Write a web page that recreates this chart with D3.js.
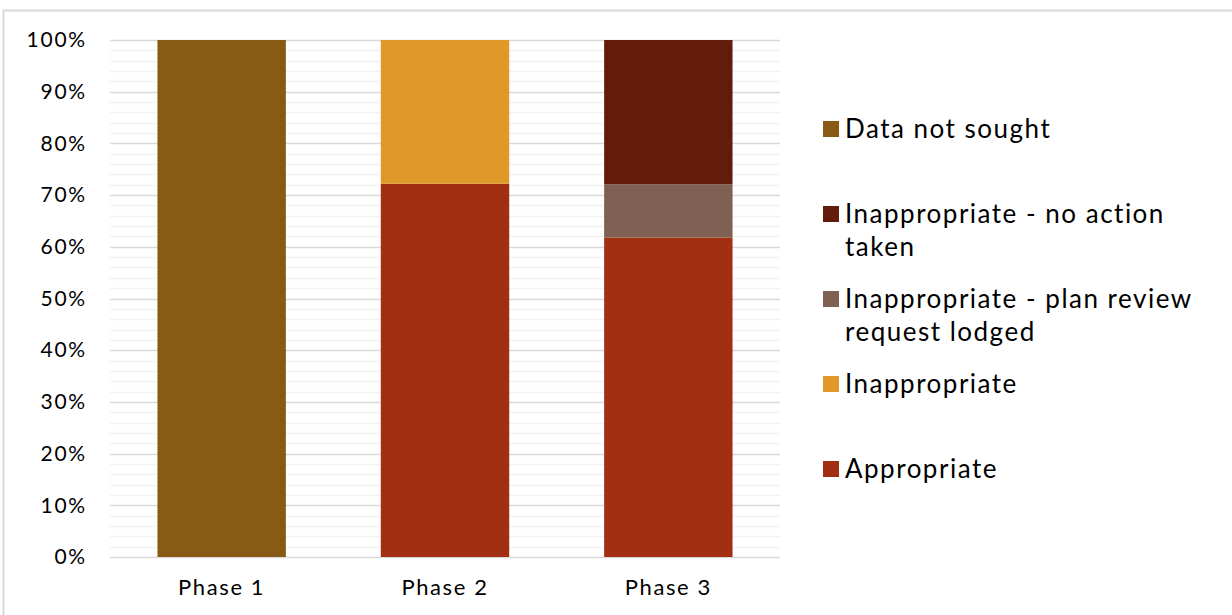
<!DOCTYPE html>
<html><head><meta charset="utf-8">
<script src="https://cdn.jsdelivr.net/npm/d3@7"></script>
<style>html,body{margin:0;padding:0;background:#fff;overflow:hidden}</style>
</head><body>
<svg id="c" width="1232" height="615"></svg>
<script>
const categories = ["Phase 1", "Phase 2", "Phase 3"];
const seriesNames = ["Appropriate", "Inappropriate", "Inappropriate - plan review request lodged", "Inappropriate - no action taken", "Data not sought"];
const appropriate = [0, 72.2, 61.8];
const inappropriate = [0, 27.8, 0];
const planReview = [0, 0, 10.3];
const noAction = [0, 0, 27.9];
const dataNotSought = [100, 0, 0];
const colors = ["#A32F12", "#E09928", "#7F6052", "#631C0B", "#895A13"];
const yTicks = [0, 10, 20, 30, 40, 50, 60, 70, 80, 90, 100];
const legendOrder = ["Data not sought", "Inappropriate - no action taken", "Inappropriate - plan review request lodged", "Inappropriate", "Appropriate"];
const legendLines = {
  "Data not sought": ["Data not sought"],
  "Inappropriate - no action taken": ["Inappropriate - no action", "taken"],
  "Inappropriate - plan review request lodged": ["Inappropriate - plan review", "request lodged"],
  "Inappropriate": ["Inappropriate"],
  "Appropriate": ["Appropriate"]
};

const FONT = "Lato, 'Open Sans', sans-serif";
const svg = d3.select("#c");
svg.append("rect").attr("x", 3.5).attr("y", 10.5).attr("width", 1300).attr("height", 700)
  .attr("fill", "none").attr("stroke", "#d9d9d9").attr("stroke-width", 2);

const m = {left: 110, right: 780, top: 40, bottom: 557};
const x = d3.scaleBand().domain(categories).range([m.left, m.right]).paddingInner(0.425).paddingOuter(0.2125);
const y = d3.scaleLinear().domain([0, 100]).range([m.bottom, m.top]);

// minor gridlines
const minor = d3.range(0, 101, 2).filter(v => v % 10 !== 0);
svg.append("g").selectAll("line").data(minor).join("line")
  .attr("x1", m.left).attr("x2", m.right)
  .attr("y1", d => Math.round(y(d)) + 0.5).attr("y2", d => Math.round(y(d)) + 0.5)
  .attr("stroke", "#f2f2f2").attr("stroke-width", 1.5);
// major gridlines
svg.append("g").selectAll("line").data(yTicks).join("line")
  .attr("x1", m.left).attr("x2", m.right)
  .attr("y1", d => Math.round(y(d)) + 0.5).attr("y2", d => Math.round(y(d)) + 0.5)
  .attr("stroke", "#d9d9d9").attr("stroke-width", 1.5);

const values = [appropriate, inappropriate, planReview, noAction, dataNotSought];
const table = categories.map((c, i) => {
  const o = {cat: c};
  seriesNames.forEach((s, k) => o[s] = values[k][i]);
  return o;
});
const stack = d3.stack().keys(seriesNames)(table);
const color = d3.scaleOrdinal().domain(seriesNames).range(colors);

svg.append("g").selectAll("g").data(stack).join("g")
  .attr("fill", d => color(d.key))
  .selectAll("rect").data(d => d.filter(p => p[1] - p[0] > 0)).join("rect")
  .attr("x", d => x(d.data.cat)).attr("width", x.bandwidth())
  .attr("y", d => y(d[1])).attr("height", d => y(d[0]) - y(d[1]));

// y axis
const yAxis = d3.axisLeft(y).tickValues(yTicks).tickFormat(d => d + "%").tickSize(0).tickPadding(23);
const ya = svg.append("g").attr("transform", `translate(${m.left},0)`).call(yAxis);
ya.select(".domain").remove();
ya.selectAll("text").attr("font-family", FONT).attr("font-size", 21).attr("letter-spacing", 1.8).attr("fill", "#000");

// x axis
const xAxis = d3.axisBottom(x).tickSize(0).tickPadding(22);
const xa = svg.append("g").attr("transform", `translate(0,${m.bottom})`).call(xAxis);
xa.select(".domain").remove();
xa.selectAll("text").attr("font-family", FONT).attr("font-size", 22).attr("letter-spacing", 1.6).attr("fill", "#000");

// legend
const legTop = [121, 206, 291, 376, 461];
const lg = svg.append("g");
legendOrder.forEach((name, i) => {
  const g = lg.append("g").attr("transform", `translate(823,${legTop[i]})`);
  g.append("rect").attr("width", 16).attr("height", 16).attr("fill", color(name));
  legendLines[name].forEach((ln, j) => {
    g.append("text").attr("x", 22).attr("y", 17 + j * 33).text(ln)
      .attr("font-family", FONT).attr("font-size", 26).attr("letter-spacing", 1.5).attr("fill", "#000");
  });
});
</script>
</body></html>
